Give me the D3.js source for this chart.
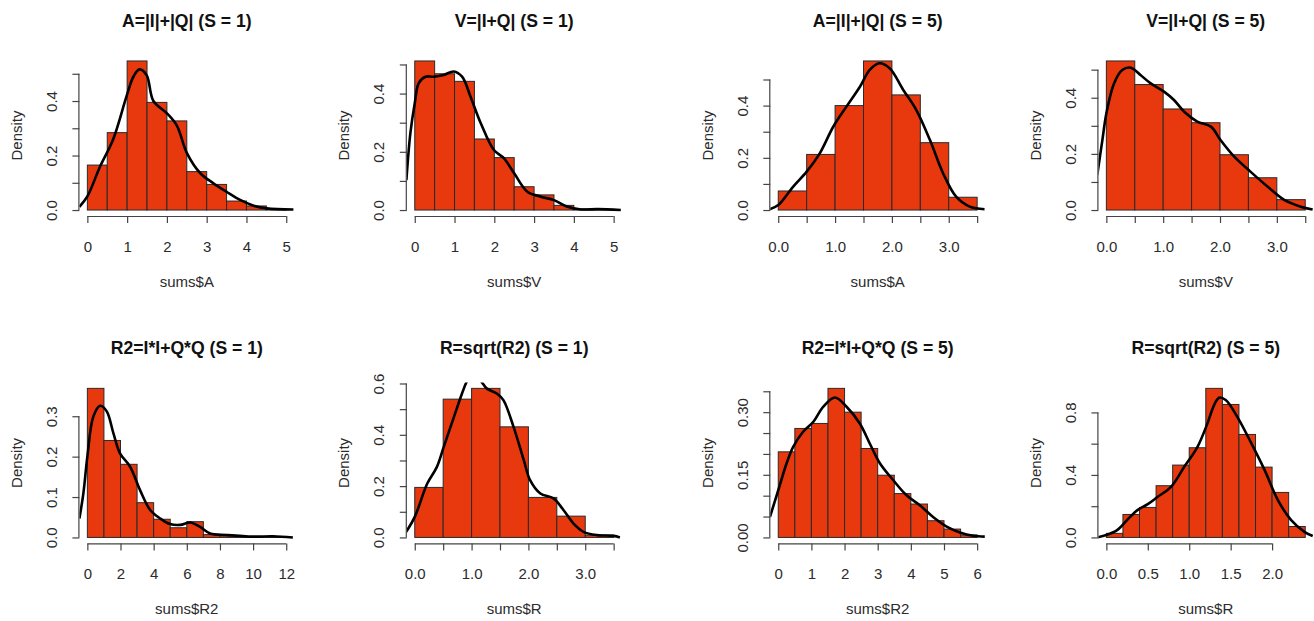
<!DOCTYPE html>
<html>
<head>
<meta charset="utf-8">
<script src="https://cdn.jsdelivr.net/npm/d3@7"></script>
<style>
  html, body { margin: 0; padding: 0; background: #fff; }
  svg { display: block; font-family: "Liberation Sans", Arial, Helvetica, sans-serif; }
</style>
</head>
<body>
<svg id="chart" width="1314" height="621"></svg>
<script>
// ---------- DATA ----------
const titles = ["A=|I|+|Q| (S = 1)", "V=|I+Q| (S = 1)", "A=|I|+|Q| (S = 5)", "V=|I+Q| (S = 5)",
                "R2=I*I+Q*Q (S = 1)", "R=sqrt(R2) (S = 1)", "R2=I*I+Q*Q (S = 5)", "R=sqrt(R2) (S = 5)"];
const xLabels = ["sums$A", "sums$V", "sums$A", "sums$V", "sums$R2", "sums$R", "sums$R2", "sums$R"];

// histogram breaks and densities
const breaksA1 = [0, 0.5, 1, 1.5, 2, 2.5, 3, 3.5, 4, 4.5, 5];
const densA1 = [0.165, 0.284, 0.547, 0.395, 0.327, 0.141, 0.094, 0.033, 0.015, 0.002];
const breaksV1 = [0, 0.5, 1, 1.5, 2, 2.5, 3, 3.5, 4, 4.5, 5];
const densV1 = [0.512, 0.468, 0.442, 0.244, 0.180, 0.080, 0.052, 0.016, 0.004, 0.002];
const breaksA5 = [0, 0.5, 1, 1.5, 2, 2.5, 3, 3.5];
const densA5 = [0.073, 0.213, 0.400, 0.571, 0.441, 0.258, 0.049];
const breaksV5 = [0, 0.5, 1, 1.5, 2, 2.5, 3, 3.5];
const densV5 = [0.531, 0.447, 0.360, 0.311, 0.197, 0.115, 0.037];
const breaksR2_1 = [0, 1, 2, 3, 4, 5, 6, 7, 8, 9, 10, 11, 12];
const densR2_1 = [0.369, 0.240, 0.181, 0.086, 0.045, 0.024, 0.039, 0.007, 0.004, 0.002, 0.001, 0.002];
const breaksR1 = [0, 0.5, 1, 1.5, 2, 2.5, 3, 3.5];
const densR1 = [0.195, 0.539, 0.581, 0.431, 0.156, 0.083, 0.009];
const breaksR2_5 = [0, 0.5, 1, 1.5, 2, 2.5, 3, 3.5, 4, 4.5, 5, 5.5, 6];
const densR2_5 = [0.205, 0.261, 0.273, 0.357, 0.300, 0.213, 0.149, 0.105, 0.080, 0.040, 0.020, 0.006];
const breaksR5 = [0, 0.2, 0.4, 0.6, 0.8, 1.0, 1.2, 1.4, 1.6, 1.8, 2.0, 2.2, 2.4];
const densR5 = [0.026, 0.147, 0.192, 0.331, 0.463, 0.574, 0.954, 0.851, 0.659, 0.450, 0.288, 0.070];

// kernel density curves (x, y)
const kdeA1x = [-0.2, 0, 0.32, 0.65, 0.99, 1.16, 1.31, 1.49, 1.66, 2.0, 2.25, 2.5, 2.84, 3.17, 3.5, 3.84, 4.18, 4.51, 5.18];
const kdeA1y = [0.012, 0.05, 0.16, 0.26, 0.42, 0.49, 0.516, 0.495, 0.40, 0.355, 0.31, 0.21, 0.135, 0.098, 0.067, 0.037, 0.016, 0.006, 0.002];
const kdeV1x = [-0.21, -0.11, 0, 0.1, 0.27, 0.48, 0.73, 0.98, 1.19, 1.40, 1.66, 1.99, 2.24, 2.50, 2.83, 3.17, 3.50, 3.84, 4.18, 4.6, 5.18];
const kdeV1y = [0.103, 0.264, 0.367, 0.436, 0.458, 0.458, 0.464, 0.476, 0.458, 0.39, 0.298, 0.206, 0.178, 0.126, 0.063, 0.046, 0.034, 0.011, 0.002, 0.003, 0.0];
const kdeA5x = [-0.15, 0, 0.26, 0.50, 0.73, 0.97, 1.20, 1.44, 1.61, 1.78, 1.96, 2.20, 2.43, 2.67, 2.90, 3.13, 3.37, 3.63];
const kdeA5y = [0.003, 0.019, 0.089, 0.147, 0.217, 0.32, 0.396, 0.473, 0.537, 0.562, 0.543, 0.46, 0.383, 0.268, 0.141, 0.051, 0.013, 0.003];
const kdeV5x = [-0.16, -0.07, 0, 0.135, 0.28, 0.43, 0.60, 0.78, 1.02, 1.19, 1.37, 1.60, 1.84, 2.01, 2.25, 2.54, 2.84, 3.13, 3.42, 3.63];
const kdeV5y = [0.125, 0.249, 0.344, 0.451, 0.499, 0.507, 0.481, 0.451, 0.421, 0.392, 0.35, 0.315, 0.297, 0.249, 0.19, 0.136, 0.083, 0.036, 0.012, 0.002];
const kdeR2_1x = [-0.48, -0.24, 0, 0.36, 0.77, 1.17, 1.57, 1.97, 2.58, 3.18, 3.79, 4.39, 4.99, 5.6, 6.2, 6.8, 7.41, 8.42, 10.0, 11.2, 12.4];
const kdeR2_1y = [0.047, 0.109, 0.2, 0.299, 0.326, 0.312, 0.258, 0.208, 0.175, 0.117, 0.068, 0.047, 0.033, 0.031, 0.037, 0.026, 0.01, 0.006, 0.002, 0.003, 0.0];
const kdeR1x = [-0.15, 0, 0.22, 0.39, 0.51, 0.69, 0.83, 0.91, 1.0, 1.08, 1.18, 1.27, 1.45, 1.56, 1.74, 1.92, 2.03, 2.21, 2.44, 2.62, 2.79, 2.97, 3.21, 3.5, 3.61];
const kdeR1y = [0.022, 0.08, 0.21, 0.275, 0.353, 0.47, 0.56, 0.605, 0.635, 0.64, 0.605, 0.58, 0.56, 0.535, 0.43, 0.30, 0.223, 0.171, 0.152, 0.106, 0.055, 0.022, 0.009, 0.006, 0.0];
const kdeR2_5x = [-0.25, 0, 0.25, 0.45, 0.75, 1.06, 1.36, 1.71, 2.06, 2.46, 2.76, 3.07, 3.47, 3.87, 4.27, 4.67, 5.08, 5.48, 5.88, 6.23];
const kdeR2_5y = [0.049, 0.113, 0.177, 0.217, 0.253, 0.277, 0.313, 0.335, 0.313, 0.273, 0.225, 0.177, 0.137, 0.101, 0.077, 0.049, 0.026, 0.012, 0.004, 0.002];
const kdeR5x = [-0.11, 0, 0.13, 0.25, 0.375, 0.50, 0.62, 0.78, 0.94, 1.10, 1.22, 1.30, 1.36, 1.44, 1.58, 1.75, 1.91, 2.07, 2.23, 2.39, 2.49];
const kdeR5y = [0.0, 0.015, 0.047, 0.111, 0.175, 0.213, 0.26, 0.324, 0.452, 0.58, 0.73, 0.847, 0.894, 0.879, 0.772, 0.602, 0.431, 0.239, 0.111, 0.036, 0.009];

// axis ticks and labels
const xTicksA1 = [0, 1, 2, 3, 4, 5];           const xTickLabA1 = ["0", "1", "2", "3", "4", "5"];
const xTicksHalf = [0, 0.5, 1, 1.5, 2, 2.5, 3, 3.5];
const xTickLabHalf = ["0.0", "", "1.0", "", "2.0", "", "3.0", ""];
const xTicksR2_1 = [0, 2, 4, 6, 8, 10, 12];    const xTickLabR2_1 = ["0", "2", "4", "6", "8", "10", "12"];
const xTicksR2_5 = [0, 1, 2, 3, 4, 5, 6];      const xTickLabR2_5 = ["0", "1", "2", "3", "4", "5", "6"];
const xTicksR5 = [0, 0.5, 1, 1.5, 2];          const xTickLabR5 = ["0.0", "0.5", "1.0", "1.5", "2.0"];

const yTicksTop = [0, 0.1, 0.2, 0.3, 0.4, 0.5];  const yTickLabTop = ["0.0", "", "0.2", "", "0.4", ""];
const yTicksR2_1 = [0, 0.1, 0.2, 0.3];           const yTickLabR2_1 = ["0.0", "0.1", "0.2", "0.3"];
const yTicksR1 = [0, 0.1, 0.2, 0.3, 0.4, 0.5, 0.6]; const yTickLabR1 = ["0.0", "", "0.2", "", "0.4", "", "0.6"];
const yTicksR2_5 = [0, 0.05, 0.1, 0.15, 0.2, 0.25, 0.3, 0.35];
const yTickLabR2_5 = ["0.00", "", "", "0.15", "", "", "0.30", ""];
const yTicksR5 = [0, 0.2, 0.4, 0.6, 0.8];        const yTickLabR5 = ["0.0", "", "0.4", "", "0.8"];

// ---------- PANELS ----------
const panels = [
  {breaks: breaksA1, dens: densA1, kx: kdeA1x, ky: kdeA1y, xt: xTicksA1, xl: xTickLabA1, yt: yTicksTop, yl: yTickLabTop},
  {breaks: breaksV1, dens: densV1, kx: kdeV1x, ky: kdeV1y, xt: xTicksA1, xl: xTickLabA1, yt: yTicksTop, yl: yTickLabTop},
  {breaks: breaksA5, dens: densA5, kx: kdeA5x, ky: kdeA5y, xt: xTicksHalf, xl: xTickLabHalf, yt: yTicksTop, yl: yTickLabTop},
  {breaks: breaksV5, dens: densV5, kx: kdeV5x, ky: kdeV5y, xt: xTicksHalf, xl: xTickLabHalf, yt: yTicksTop, yl: yTickLabTop},
  {breaks: breaksR2_1, dens: densR2_1, kx: kdeR2_1x, ky: kdeR2_1y, xt: xTicksR2_1, xl: xTickLabR2_1, yt: yTicksR2_1, yl: yTickLabR2_1},
  {breaks: breaksR1, dens: densR1, kx: kdeR1x, ky: kdeR1y, xt: xTicksHalf, xl: xTickLabHalf, yt: yTicksR1, yl: yTickLabR1},
  {breaks: breaksR2_5, dens: densR2_5, kx: kdeR2_5x, ky: kdeR2_5y, xt: xTicksR2_5, xl: xTickLabR2_5, yt: yTicksR2_5, yl: yTickLabR2_5},
  {breaks: breaksR5, dens: densR5, kx: kdeR5x, ky: kdeR5y, xt: xTicksR5, xl: xTickLabR5, yt: yTicksR5, yl: yTickLabR5}
];

// layout
const colLeft = [79.4, 406.8, 770.3, 1098.4];
const rowTop = [55, 382.4];
const plotW = 214.8, plotH = 161;
const barFill = "#E8380E";
const axisCol = "#444";
const textCol = "#2b2b2b";

const svg = d3.select("#chart");
const defs = svg.append("defs");

panels.forEach((p, i) => {
  const col = i % 4, row = Math.floor(i / 4);
  const left = colLeft[col], top = rowTop[row];
  const right = left + plotW, bottom = top + plotH;

  const x0 = p.breaks[0], x1 = p.breaks[p.breaks.length - 1];
  const xr = x1 - x0;
  const ymax = d3.max(p.dens);
  const x = d3.scaleLinear().domain([x0 - 0.04 * xr, x1 + 0.04 * xr]).range([left, right]);
  const y = d3.scaleLinear().domain([-0.04 * ymax, 1.04 * ymax]).range([bottom, top]);

  const g = svg.append("g");

  // bars
  const bins = p.dens.map((d, k) => ({a: p.breaks[k], b: p.breaks[k + 1], d}));
  g.selectAll("rect.bar").data(bins).join("rect")
    .attr("class", "bar")
    .attr("x", d => x(d.a))
    .attr("y", d => y(d.d))
    .attr("width", d => x(d.b) - x(d.a))
    .attr("height", d => y(0) - y(d.d))
    .attr("fill", barFill)
    .attr("stroke", "#2a2a2a")
    .attr("stroke-width", 1);

  // density curve (clipped to plot region)
  const cid = "clip" + i;
  defs.append("clipPath").attr("id", cid).append("rect")
    .attr("x", left).attr("y", top).attr("width", plotW).attr("height", plotH);
  const pts = p.kx.map((v, k) => [v, p.ky[k]]);
  g.append("path")
    .datum(pts)
    .attr("clip-path", `url(#${cid})`)
    .attr("fill", "none")
    .attr("stroke", "#000")
    .attr("stroke-width", 2.6)
    .attr("stroke-linejoin", "round")
    .attr("d", d3.line().x(d => x(d[0])).y(d => y(d[1])).curve(d3.curveCatmullRom.alpha(0.5)));

  // x axis
  const xa = g.append("g").attr("transform", `translate(0,${bottom})`)
    .call(d3.axisBottom(x).tickValues(p.xt).tickFormat((d, k) => p.xl[k]).tickSize(7).tickSizeOuter(0).tickPadding(0));
  xa.select(".domain").attr("d", `M${x(p.xt[0])},0.5H${x(p.xt[p.xt.length - 1])}`).attr("stroke", axisCol).attr("stroke-width", 1.2);
  xa.selectAll(".tick line").attr("stroke", axisCol).attr("stroke-width", 1.2);
  xa.selectAll(".tick text")
    .attr("y", 30.5).attr("dy", null)
    .attr("dominant-baseline", "central")
    .attr("fill", textCol)
    .style("font-size", "15px")
    .style("font-family", '"Liberation Sans", Arial, sans-serif');

  // y axis
  const ya = g.append("g").attr("transform", `translate(${left},0)`)
    .call(d3.axisLeft(y).tickValues(p.yt).tickFormat((d, k) => p.yl[k]).tickSize(7).tickSizeOuter(0).tickPadding(0));
  ya.select(".domain").attr("d", `M-0.5,${y(p.yt[0])}V${y(p.yt[p.yt.length - 1])}`).attr("stroke", axisCol).attr("stroke-width", 1.2);
  ya.selectAll(".tick line").attr("stroke", axisCol).attr("stroke-width", 1.2);
  ya.selectAll(".tick text")
    .attr("x", 0).attr("dy", null)
    .attr("transform", "translate(-28,0) rotate(-90)")
    .attr("text-anchor", "middle")
    .attr("dominant-baseline", "central")
    .attr("fill", textCol)
    .style("font-size", "15px")
    .style("font-family", '"Liberation Sans", Arial, sans-serif');

  // labels
  g.append("text")
    .attr("transform", `translate(${left - 63},${(top + bottom) / 2}) rotate(-90)`)
    .attr("text-anchor", "middle").attr("dominant-baseline", "central")
    .attr("fill", textCol).style("font-size", "15px")
    .text("Density");
  g.append("text")
    .attr("x", (left + right) / 2).attr("y", bottom + 65.5)
    .attr("text-anchor", "middle").attr("dominant-baseline", "central")
    .attr("fill", textCol).style("font-size", "15px")
    .text(xLabels[i]);
  g.append("text")
    .attr("x", (left + right) / 2).attr("y", top - 34.5)
    .attr("text-anchor", "middle").attr("dominant-baseline", "central")
    .attr("fill", "#111").style("font-size", "17.6px").style("font-weight", "bold")
    .text(titles[i]);
});
</script>
</body>
</html>
